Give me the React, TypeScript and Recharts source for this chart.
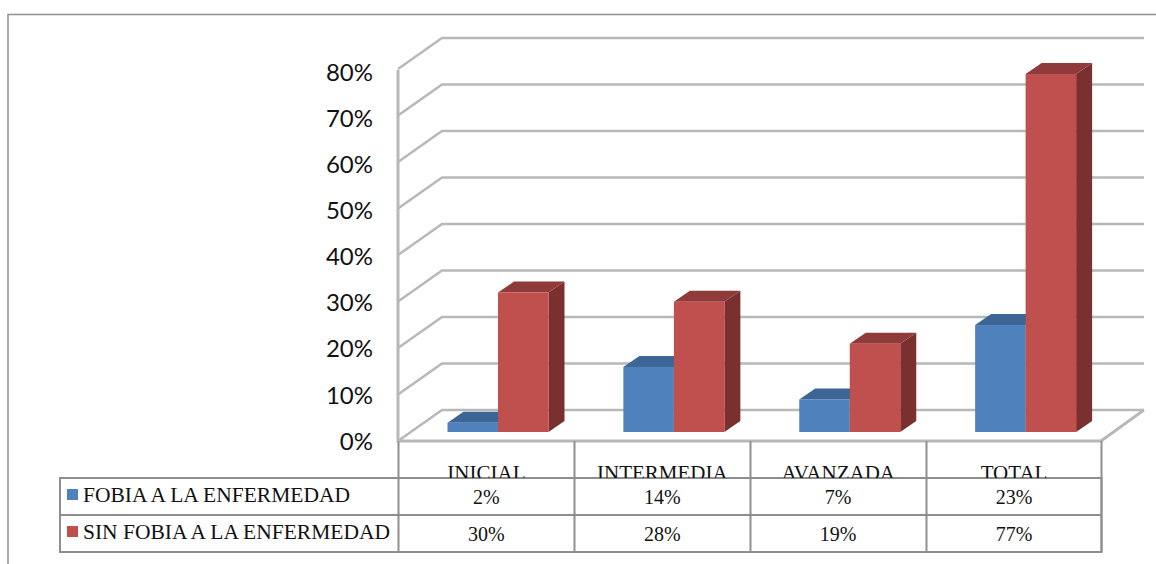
import React from "react";
import { BarChart, Bar, XAxis, YAxis, CartesianGrid } from "recharts";

const categories = ["INICIAL", "INTERMEDIA", "AVANZADA", "TOTAL"];
const seriesNames = ["FOBIA A LA ENFERMEDAD", "SIN FOBIA A LA ENFERMEDAD"];
const fobia = [2, 14, 7, 23];
const sinFobia = [30, 28, 19, 77];
const yTicks = [0, 10, 20, 30, 40, 50, 60, 70, 80];

const rows = categories.map((name, i) => ({ name, fobia: fobia[i], sinFobia: sinFobia[i] }));

const GRID = "#b8b8b8";
const RULE = "#8e8e8e";
const SERIF = "'Liberation Serif', serif";
const DEPTH_X = 16;
const DEPTH_Y = 11;

// Extruded column: front face plus top and right faces.
const Column = (front: string, top: string, side: string) => (props: any) => {
  const { x, y, width, height } = props;
  const r = x + width;
  const b = y + height;
  return (
    <g>
      <polygon
        points={`${r},${y} ${r + DEPTH_X},${y - DEPTH_Y} ${r + DEPTH_X},${b - DEPTH_Y} ${r},${b}`}
        fill={side}
      />
      <polygon
        points={`${x},${y} ${x + DEPTH_X},${y - DEPTH_Y} ${r + DEPTH_X},${y - DEPTH_Y} ${r},${y}`}
        fill={top}
      />
      <rect x={x} y={y} width={width} height={height} fill={front} />
    </g>
  );
};

// Each gridline runs along the back wall and folds down the left wall.
const WallLine = (props: any) => {
  const { x1, x2, y1, index } = props;
  return (
    <polyline
      key={index}
      points={`${x1 - 12.5},${y1 + 9} ${x1 + 31.5},${y1 - 22} ${x2 + 30},${y1 - 22}`}
      fill="none"
      stroke={GRID}
      strokeWidth={2.5}
    />
  );
};

// Labels sit on the front edge of the wall, right-aligned against a common margin.
const PercentTick = (props: any) => {
  const { y, payload } = props;
  const labelY = 441 - (432 - y) * (369 / 372);
  return (
    <text x={373} y={labelY} dy="0.36em" textAnchor="end" fontFamily="Lato, sans-serif" fontSize={24} fill="#111">
      {payload.value}%
    </text>
  );
};

// Category heading (cut off by the table's first rule) and its two table values.
const TableColumnTick = (props: any) => {
  const { x, payload, index } = props;
  const cx = x - 12;
  return (
    <g fontFamily={SERIF} fill="#111" textAnchor="middle">
      <text x={cx} y={480} fontSize={21} clipPath="url(#head-clip)">{payload.value}</text>
      <text x={cx} y={504} fontSize={20}>{fobia[index]}%</text>
      <text x={cx} y={541} fontSize={20}>{sinFobia[index]}%</text>
    </g>
  );
};

const TableFrame = () => (
  <svg width={1156} height={564} style={{ position: "absolute", left: 0, top: 0 }}>
    <defs>
      <clipPath id="head-clip">
        <rect x={398} y={441} width={704} height={37} />
      </clipPath>
    </defs>
    <g stroke={RULE} strokeWidth={1.5} fill="none">
      <polyline points="8,564 8,14.5 1156,14.5" />
    </g>
    <polyline points="398,70 398,441 1101,441 1144,410" fill="none" stroke={GRID} strokeWidth={3} />
    <g stroke={RULE} strokeWidth={2} fill="none">
      <rect x={60} y={478} width={1041.5} height={74} />
      <line x1={60} y1={515} x2={1101.5} y2={515} />
      {[398.5, 574.5, 750.5, 926.5, 1101.5].map((x) => (
        <line key={x} x1={x} y1={441} x2={x} y2={552} />
      ))}
    </g>
    <rect x={67} y={489} width={11} height={11} fill="#4F81BD" />
    <rect x={67} y={526} width={11} height={11} fill="#C0504D" />
    <g fontFamily={SERIF} fontSize={21.5} fill="#111">
      <text x={83} y={502}>{seriesNames[0]}</text>
      <text x={83} y={539}>{seriesNames[1]}</text>
    </g>
  </svg>
);

export default function App() {
  return (
    <div style={{ position: "absolute", left: 0, top: 0, width: 1156, height: 564, background: "#fff" }}>
      <TableFrame />
      <div style={{ position: "absolute", left: 0, top: 0 }}>
        <BarChart
          width={1156}
          height={564}
          data={rows}
          margin={{ top: 60, right: 42, bottom: 102, left: 350.5 }}
          barSize={50.5}
          barGap={0}
        >
          <CartesianGrid vertical={false} horizontal={WallLine as any} />
          <XAxis
            dataKey="name"
            height={30}
            axisLine={false}
            tickLine={false}
            interval={0}
            tick={TableColumnTick as any}
          />
          <YAxis
            width={60}
            domain={[0, 80]}
            ticks={yTicks}
            axisLine={false}
            tickLine={false}
            tickMargin={0}
            tick={PercentTick as any}
          />
          <Bar dataKey="fobia" isAnimationActive={false} shape={Column("#4F81BD", "#3B6696", "#2F5279") as any} />
          <Bar dataKey="sinFobia" isAnimationActive={false} shape={Column("#C0504D", "#8F3B39", "#7A302E") as any} />
        </BarChart>
      </div>
    </div>
  );
}
